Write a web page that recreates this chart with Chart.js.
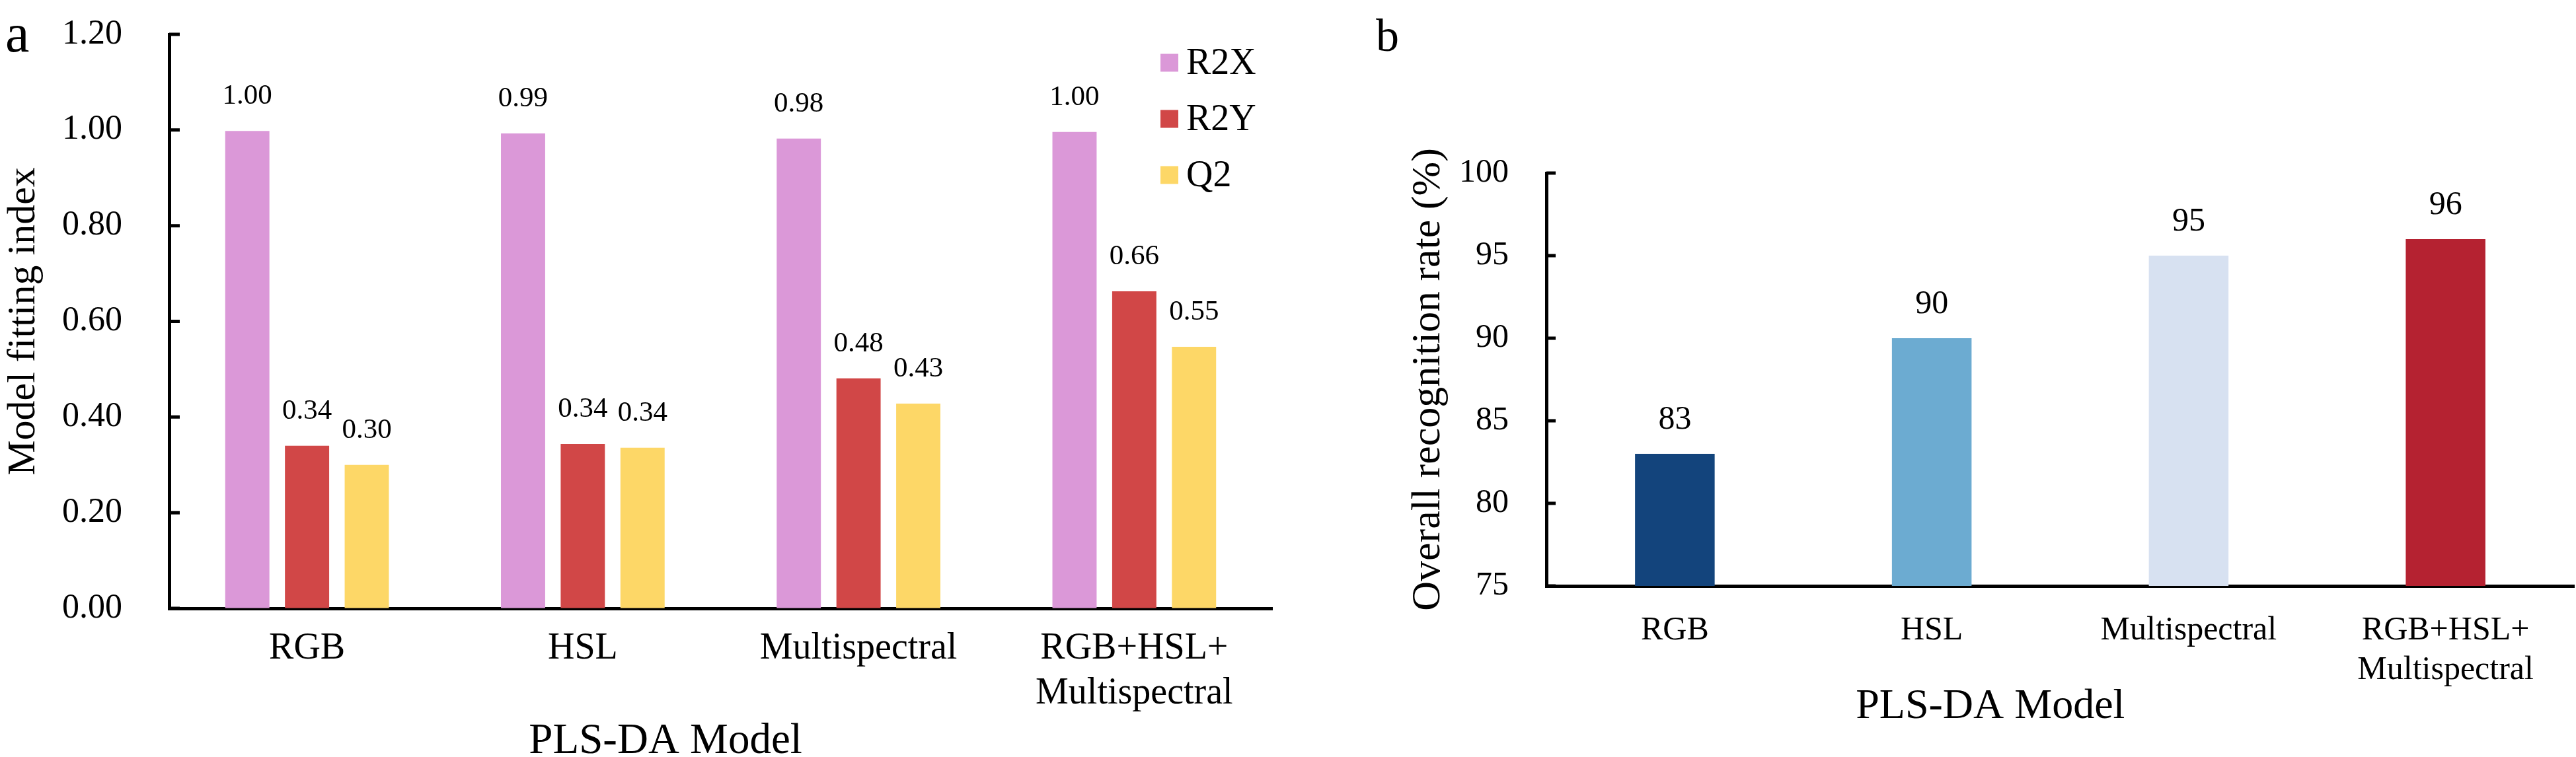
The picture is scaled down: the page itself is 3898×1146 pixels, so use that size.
<!DOCTYPE html>
<html>
<head>
<meta charset="utf-8">
<script src="https://cdn.jsdelivr.net/npm/chart.js@4.4.1/dist/chart.umd.min.js"></script>
<style>
  html, body { margin: 0; padding: 0; background: #fff; }
  body { width: 3898px; height: 1146px; position: relative; overflow: hidden; }
  #wrapA { position: absolute; left: 0; top: 0; width: 1960px; height: 1146px; }
  #wrapB { position: absolute; left: 1990px; top: 0; width: 1908px; height: 1146px; }
</style>
</head>
<body>
<div id="wrapA"><canvas id="chartA" width="1960" height="1146"></canvas></div>
<div id="wrapB"><canvas id="chartB" width="1908" height="1146"></canvas></div>
<script>
// panel a: PLS-DA model fitting
const categories = ['RGB', 'HSL', 'Multispectral', ['RGB+HSL+', 'Multispectral']];
const seriesNames = ['R2X', 'R2Y', 'Q2'];
const r2x = [0.998, 0.993, 0.982, 0.996];
const r2y = [0.340, 0.344, 0.481, 0.663];
const q2 = [0.300, 0.336, 0.428, 0.547];
const fitTicks = [0, 0.2, 0.4, 0.6, 0.8, 1.0, 1.2];

// panel b: overall recognition rate
const rateValues = [83, 90, 95, 96];
const rateTicks = [75, 80, 85, 90, 95, 100];

const serif = '"Liberation Serif", "Times New Roman", serif';
Chart.defaults.font.family = serif;
Chart.defaults.color = '#000';

const seriesColors = ['#DB98D8', '#D14747', '#FDD767'];
const rateColors = ['#13447C', '#6CABD1', '#D7E1F1', '#B52231'];

// value text above each bar
function valueLabels(fmt, size, gap) {
  return {
    id: 'valueLabels',
    afterDatasetsDraw(chart) {
      const ctx = chart.ctx;
      ctx.save();
      ctx.font = size + 'px ' + serif;
      ctx.fillStyle = '#000';
      ctx.textAlign = 'center';
      ctx.textBaseline = 'alphabetic';
      chart.data.datasets.forEach((ds, i) => {
        chart.getDatasetMeta(i).data.forEach((bar, j) => {
          ctx.fillText(fmt(ds.data[j]), bar.x, bar.y - gap);
        });
      });
      ctx.restore();
    }
  };
}

// tick marks pointing into the plot, x title, panel letter, legend
function decor(cfg) {
  return {
    id: 'decor',
    afterDraw(chart) {
      const ctx = chart.ctx;
      const area = chart.chartArea;
      const y = chart.scales.y;
      ctx.save();
      ctx.strokeStyle = '#000';
      ctx.lineWidth = 5;
      ctx.beginPath();
      y.ticks.forEach(t => {
        const py = y.getPixelForValue(t.value);
        ctx.moveTo(area.left, py);
        ctx.lineTo(area.left + cfg.tickLen, py);
      });
      ctx.stroke();

      ctx.fillStyle = '#000';
      ctx.textBaseline = 'alphabetic';
      ctx.textAlign = 'center';
      ctx.font = cfg.titleSize + 'px ' + serif;
      ctx.fillText(cfg.xTitle, area.left + cfg.titleFrac * (area.right - area.left), cfg.titleBase);

      ctx.textAlign = 'left';
      ctx.font = cfg.letterSize + 'px ' + serif;
      ctx.fillText(cfg.letter, cfg.letterX, cfg.letterBase);

      if (cfg.legend) {
        ctx.font = cfg.legend.size + 'px ' + serif;
        ctx.textBaseline = 'middle';
        chart.data.datasets.forEach((ds, i) => {
          const cy = cfg.legend.y + i * cfg.legend.step;
          ctx.fillStyle = ds.backgroundColor;
          ctx.fillRect(cfg.legend.x, cy - cfg.legend.box / 2, cfg.legend.box, cfg.legend.box);
          ctx.fillStyle = '#000';
          ctx.fillText(ds.label, cfg.legend.x + cfg.legend.box + 12, cy + 2);
        });
      }
      ctx.restore();
    }
  };
}

new Chart(document.getElementById('chartA'), {
  type: 'bar',
  data: {
    labels: categories,
    datasets: [r2x, r2y, q2].map((vals, i) => ({
      label: seriesNames[i],
      data: vals,
      backgroundColor: seriesColors[i],
      categoryPercentage: 0.65,
      barPercentage: 0.74
    }))
  },
  options: {
    responsive: false,
    animation: false,
    layout: { padding: { top: 52, right: 35, left: 0, bottom: 0 } },
    plugins: { legend: { display: false }, tooltip: { enabled: false } },
    scales: {
      x: {
        grid: { drawOnChartArea: false, drawTicks: false },
        border: { color: '#000', width: 5 },
        ticks: { font: { size: 56 }, padding: 28, maxRotation: 0, autoSkip: false },
        afterFit(s) { s.height = 225; }
      },
      y: {
        min: fitTicks[0],
        max: fitTicks[fitTicks.length - 1],
        grid: { drawOnChartArea: false, drawTicks: false },
        border: { color: '#000', width: 5 },
        ticks: {
          stepSize: fitTicks[1] - fitTicks[0],
          font: { size: 52 },
          padding: 71,
          callback: v => v.toFixed(2)
        },
        title: { display: true, text: 'Model fitting index', font: { size: 60 }, padding: 0 },
        afterFit(s) { s.width = 256; s.paddingTop = 0; s.paddingBottom = 0; }
      }
    }
  },
  plugins: [
    valueLabels(v => v.toFixed(2), 43, 41),
    decor({
      tickLen: 16, xTitle: 'PLS-DA Model', titleSize: 65, titleFrac: 0.45, titleBase: 1140,
      letter: 'a', letterSize: 82, letterX: 8, letterBase: 78,
      legend: { x: 1756, y: 95, step: 85, box: 27, size: 56 }
    })
  ]
});

new Chart(document.getElementById('chartB'), {
  type: 'bar',
  data: {
    labels: categories,
    datasets: [{
      label: 'Overall recognition rate',
      data: rateValues,
      backgroundColor: rateColors,
      categoryPercentage: 1,
      barPercentage: 0.31
    }]
  },
  options: {
    responsive: false,
    animation: false,
    layout: { padding: { top: 262, right: 3, left: 0, bottom: 0 } },
    plugins: { legend: { display: false }, tooltip: { enabled: false } },
    scales: {
      x: {
        grid: { drawOnChartArea: false, drawTicks: false },
        border: { color: '#000', width: 5 },
        ticks: { font: { size: 50 }, padding: 38, maxRotation: 0, autoSkip: false },
        afterFit(s) { s.height = 259; }
      },
      y: {
        min: rateTicks[0],
        max: rateTicks[rateTicks.length - 1],
        grid: { drawOnChartArea: false, drawTicks: false },
        border: { color: '#000', width: 5 },
        ticks: { stepSize: rateTicks[1] - rateTicks[0], font: { size: 50 }, padding: 57 },
        title: { display: true, text: 'Overall recognition rate (%)', font: { size: 62 }, padding: { top: 135 } },
        afterFit(s) { s.width = 350; s.paddingTop = 0; s.paddingBottom = 0; }
      }
    }
  },
  plugins: [
    valueLabels(v => v.toFixed(0), 50, 38),
    decor({
      tickLen: 14, xTitle: 'PLS-DA Model', titleSize: 64, titleFrac: 0.432, titleBase: 1087,
      letter: 'b', letterSize: 70, letterX: 92, letterBase: 77
    })
  ]
});
</script>
</body>
</html>
